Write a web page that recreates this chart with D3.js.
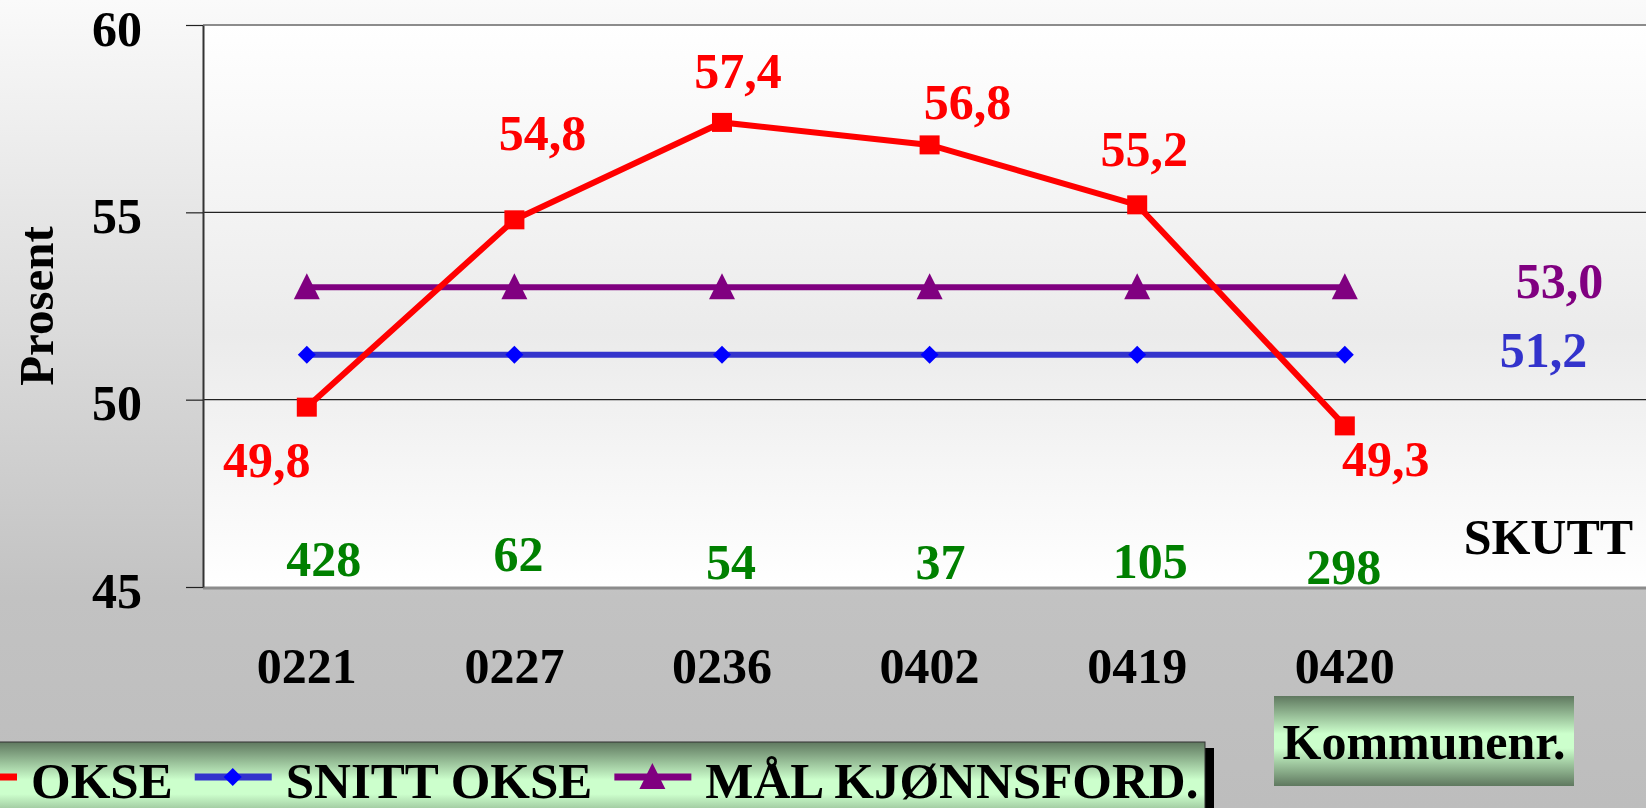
<!DOCTYPE html>
<html>
<head>
<meta charset="utf-8">
<script src="https://cdn.jsdelivr.net/npm/d3@7"></script>
<style>
body { margin: 0; overflow: hidden; }
text { font-family: "Liberation Serif", "Times New Roman", serif; font-weight: bold; }
</style>
</head>
<body>
<script>
// data
var kommuner = ["0221", "0227", "0236", "0402", "0419", "0420"];
var okse = [49.8, 54.8, 57.4, 56.8, 55.2, 49.3];
var snittOkse = [51.2, 51.2, 51.2, 51.2, 51.2, 51.2];
var maalKjonn = [53.0, 53.0, 53.0, 53.0, 53.0, 53.0];
var skutt = [428, 62, 54, 37, 105, 298];
var yTicks = [45, 50, 55, 60];
var seriesNames = ["OKSE", "SNITT OKSE", "MÅL KJØNNSFORD."];

var w = 1646, h = 808;
var fmt = function(v) { return d3.format(".1f")(v).replace(".", ","); };

// hand placed label nudges (like in the original sheet)
var okseLabelNudge = [[-40, 70], [28, -70], [16, -34], [38, -26], [7, -39], [41, 50]];
var skuttNudge = [[17, -11], [4, -16], [9, -8], [11, -8], [13, -9], [-1, -3]];

var svg = d3.select("body").append("svg")
    .attr("width", w)
    .attr("height", h);

var defs = svg.append("defs");
var bg = defs.append("linearGradient").attr("id", "bg").attr("x1", 0).attr("y1", 0).attr("x2", 0).attr("y2", 1);
bg.append("stop").attr("offset", "0%").attr("stop-color", "#fafafa");
bg.append("stop").attr("offset", "74%").attr("stop-color", "#c2c2c2");
bg.append("stop").attr("offset", "100%").attr("stop-color", "#bdbdbd");

var plotBg = defs.append("linearGradient").attr("id", "plotbg").attr("x1", 0).attr("y1", 0).attr("x2", 0).attr("y2", 1);
plotBg.append("stop").attr("offset", "0%").attr("stop-color", "#ffffff");
plotBg.append("stop").attr("offset", "55%").attr("stop-color", "#ebebeb");
plotBg.append("stop").attr("offset", "100%").attr("stop-color", "#ffffff");

var boxBg = defs.append("linearGradient").attr("id", "boxbg").attr("x1", 0).attr("y1", 0).attr("x2", 0).attr("y2", 1);
boxBg.append("stop").attr("offset", "0%").attr("stop-color", "#5f785f");
boxBg.append("stop").attr("offset", "42%").attr("stop-color", "#ccffcc");
boxBg.append("stop").attr("offset", "58%").attr("stop-color", "#ccffcc");
boxBg.append("stop").attr("offset", "100%").attr("stop-color", "#5f785f");

svg.append("rect").attr("width", w).attr("height", h).attr("fill", "url(#bg)");

// scales
var plotLeft = 203, plotTop = 25, plotBottom = 587, band = 207.6;
var x = d3.scaleBand()
    .domain(kommuner.concat(["_"]))
    .range([plotLeft, plotLeft + band * 7]);
var cx = function(k) { return x(k) + x.bandwidth() / 2; };
var y = d3.scaleLinear().domain([45, 60]).range([plotBottom, plotTop]);

// plot area
svg.append("rect")
    .attr("x", plotLeft).attr("y", plotTop)
    .attr("width", x.range()[1] - plotLeft).attr("height", plotBottom - plotTop)
    .attr("fill", "url(#plotbg)");

svg.selectAll(".grid")
    .data(yTicks.filter(t => t > 45 && t < 60))
    .enter()
    .append("line")
    .attr("x1", plotLeft).attr("x2", w)
    .attr("y1", d => y(d)).attr("y2", d => y(d))
    .attr("stroke", "#222").attr("stroke-width", 1.2);

svg.append("line").attr("x1", plotLeft).attr("x2", w).attr("y1", y(60)).attr("y2", y(60))
    .attr("stroke", "#8c8c8c").attr("stroke-width", 2);
svg.append("line").attr("x1", plotLeft).attr("x2", w).attr("y1", y(45) + 1).attr("y2", y(45) + 1)
    .attr("stroke", "#8c8c8c").attr("stroke-width", 3);

// y axis
var yAxis = svg.append("g")
    .attr("transform", "translate(" + plotLeft + ",0)")
    .call(d3.axisLeft(y).tickValues(yTicks).tickSize(17).tickPadding(44).tickSizeOuter(0));
yAxis.select(".domain").attr("stroke", "#333").attr("stroke-width", 2);
yAxis.selectAll(".tick line").attr("stroke", "#222").attr("stroke-width", 1.2);
yAxis.selectAll(".tick text")
    .attr("font-size", "50px")
    .attr("fill", "#000")
    .attr("dy", "0.4em")
    .style("font-family", "'Liberation Serif', 'Times New Roman', serif")
    .style("font-weight", "bold");

svg.append("text")
    .attr("transform", "translate(53," + ((y(50) + y(55)) / 2) + ") rotate(-90)")
    .attr("text-anchor", "middle")
    .attr("font-size", "49px")
    .text("Prosent");

// x labels
svg.selectAll(".xlab")
    .data(kommuner)
    .enter()
    .append("text")
    .attr("x", d => cx(d))
    .attr("y", plotBottom + 96)
    .attr("text-anchor", "middle")
    .attr("font-size", "50px")
    .text(d => d);

// lines
var line = d3.line()
    .x((d, i) => cx(kommuner[i]))
    .y(d => y(d));

svg.append("path").datum(maalKjonn).attr("d", line)
    .attr("fill", "none").attr("stroke", "#800080").attr("stroke-width", 6);
svg.selectAll(".tri")
    .data(maalKjonn)
    .enter()
    .append("path")
    .attr("transform", (d, i) => "translate(" + cx(kommuner[i]) + "," + y(d) + ")")
    .attr("d", "M0,-14L13,12L-13,12Z")
    .attr("fill", "#800080");

svg.append("path").datum(snittOkse).attr("d", line)
    .attr("fill", "none").attr("stroke", "#3333cc").attr("stroke-width", 6);
svg.selectAll(".dia")
    .data(snittOkse)
    .enter()
    .append("path")
    .attr("transform", (d, i) => "translate(" + cx(kommuner[i]) + "," + y(d) + ")")
    .attr("d", "M0,-9L9,0L0,9L-9,0Z")
    .attr("fill", "#0000ff");

svg.append("path").datum(okse).attr("d", line)
    .attr("fill", "none").attr("stroke", "#ff0000").attr("stroke-width", 6);
svg.selectAll(".sq")
    .data(okse)
    .enter()
    .append("rect")
    .attr("x", (d, i) => cx(kommuner[i]) - 10)
    .attr("y", d => y(d) - 9.5)
    .attr("width", 20).attr("height", 19)
    .attr("fill", "#ff0000");

// data labels
svg.selectAll(".olab")
    .data(okse)
    .enter()
    .append("text")
    .attr("x", (d, i) => cx(kommuner[i]) + okseLabelNudge[i][0])
    .attr("y", (d, i) => y(d) + okseLabelNudge[i][1])
    .attr("text-anchor", "middle")
    .attr("font-size", "50px")
    .attr("fill", "#ff0000")
    .text(d => fmt(d));

svg.append("text")
    .attr("x", cx("_") + 7).attr("y", y(maalKjonn[5]) + 11)
    .attr("text-anchor", "middle").attr("font-size", "50px").attr("fill", "#800080")
    .text(fmt(maalKjonn[5]));
svg.append("text")
    .attr("x", cx("_") - 9).attr("y", y(snittOkse[5]) + 12)
    .attr("text-anchor", "middle").attr("font-size", "50px").attr("fill", "#3333cc")
    .text(fmt(snittOkse[5]));

svg.selectAll(".skutt")
    .data(skutt)
    .enter()
    .append("text")
    .attr("x", (d, i) => cx(kommuner[i]) + skuttNudge[i][0])
    .attr("y", (d, i) => y(45) + skuttNudge[i][1])
    .attr("text-anchor", "middle")
    .attr("font-size", "50px")
    .attr("fill", "#008000")
    .text(d => d);

svg.append("text")
    .attr("x", cx("_") - 4).attr("y", y(45) - 33)
    .attr("text-anchor", "middle").attr("font-size", "50px")
    .text("SKUTT");

// x axis title box
svg.append("rect").attr("x", 1274).attr("y", 696).attr("width", 300).attr("height", 90)
    .attr("fill", "url(#boxbg)");
svg.append("text").attr("x", 1424).attr("y", 759)
    .attr("text-anchor", "middle").attr("font-size", "50px")
    .text("Kommunenr.");

// legend
var lg = svg.append("g");
lg.append("rect").attr("x", -20 + 9).attr("y", 742 + 6).attr("width", 1225).attr("height", 90).attr("fill", "#000");
lg.append("rect").attr("x", -20).attr("y", 742).attr("width", 1225).attr("height", 90)
    .attr("fill", "url(#boxbg)").attr("stroke", "#333").attr("stroke-width", 1);

var legendColors = ["#ff0000", "#3333cc", "#800080"];
var markerColors = ["#ff0000", "#0000ff", "#800080"];
var markerShapes = ["M-10,-9.5h20v19h-20Z", "M0,-9L9,0L0,9L-9,0Z", "M0,-14L13,12L-13,12Z"];
var lx = -60, ly = 777;
seriesNames.forEach(function(name, i) {
    lg.append("line").attr("x1", lx).attr("x2", lx + 77).attr("y1", ly).attr("y2", ly)
        .attr("stroke", legendColors[i]).attr("stroke-width", 7);
    lg.append("path").attr("transform", "translate(" + (lx + 38) + "," + ly + ")")
        .attr("d", markerShapes[i]).attr("fill", markerColors[i]);
    var t = lg.append("text").attr("x", lx + 91).attr("y", 798)
        .attr("font-size", "51px").text(name);
    lx = lx + 91 + t.node().getComputedTextLength() + 22;
});
</script>
</body>
</html>
